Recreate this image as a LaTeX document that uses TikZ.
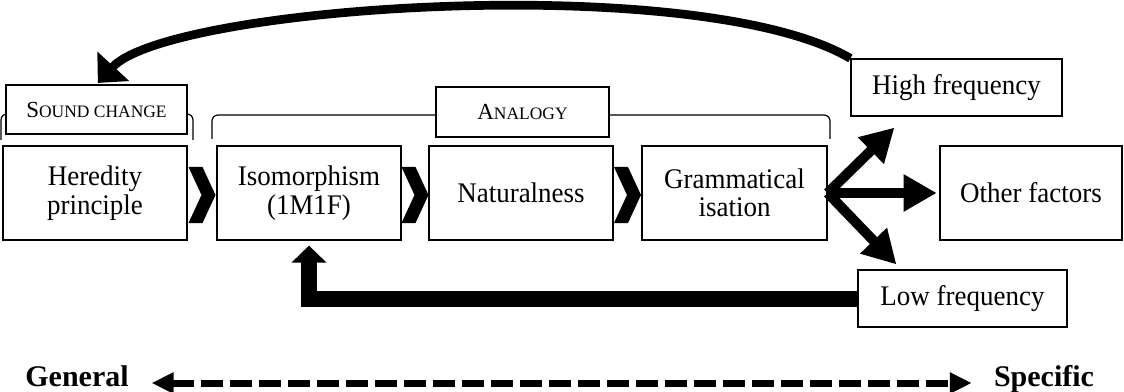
\documentclass[tikz,border=0pt]{standalone}
\usepackage{fontspec}
\setmainfont{Liberation Serif}
\newfontfamily\boxfont[FakeStretch=0.95]{Liberation Serif}
\usetikzlibrary{arrows.meta,calc}
\newcommand\mysc[2]{{\fontsize{17.25}{18}\selectfont #1}{\fontsize{13.1}{14}\selectfont #2}}
\begin{document}
\begin{tikzpicture}[x=0.75pt,y=-0.75pt,
  box/.style={draw,line width=0.9pt,fill=white,align=center,inner sep=0pt,
    font=\boxfont\fontsize{21.3}{21.3}\selectfont},
  mainbox/.style={box,minimum width=138pt,minimum height=70.5pt},
  freqbox/.style={box,minimum height=42.75pt},
  labelbox/.style={draw,line width=0.9pt,fill=white,inner sep=0pt,align=center},
  bracket/.style={line width=0.9pt,rounded corners=4.5pt},
  fat/.style={line width=7.5pt,-{Triangle[length=24.75pt,width=26.25pt]}},
  fatlow/.style={line width=12pt,-{Triangle[length=12.75pt,width=25.5pt]}},
  toparrow/.style={line width=6.5pt,-{Triangle[length=17pt,width=31.5pt]}},
  endtext/.style={inner sep=0pt,font=\fontsize{22.5}{23}\selectfont\bfseries,text height=0.7em,text depth=0.2em},
  scale arrow/.style={line width=5.25pt,dash pattern=on 16.5pt off 5.25pt,
    {Triangle[length=16.5pt,width=15pt]}-{Triangle[length=16.5pt,width=15pt]}},
  chevron/.pic={\fill (-13.5,-28) -- (0.5,-28) -- (13.5,0) -- (0.5,28) -- (-13.5,28) -- (-0.5,0) -- cycle;}
]
\useasboundingbox (0,0) rectangle (1124,392);

% brackets
\draw[bracket] (1,140) -- (1,114) -- (193,114) -- (193,140);
\draw[bracket] (212,139) -- (212,115) -- (830,115) -- (830,139);

% main boxes
\node[mainbox] (her) at (95,193) {Heredity\\principle};
\node[mainbox] (iso) at (309,193) {Isomorphism\\(1M1F)};
\node[mainbox] (nat) at (521,193) {Naturalness};
\node[mainbox,minimum width=138.75pt] (gram) at (734.5,193) {Grammatical\\isation};
\node[mainbox,minimum width=136.5pt] (oth) at (1031,193) {Other factors};
\node[freqbox,minimum width=158.25pt] (hf) at (956.5,87.5) {High frequency};
\node[freqbox,minimum width=156.75pt] (lf) at (962.5,298.5) {Low frequency};

% label boxes
\node[labelbox,minimum width=135.75pt,minimum height=36.75pt] (sc) at (96.5,109.5) {\mysc{S}{OUND CHANGE}};
\node[labelbox,minimum width=129.75pt,minimum height=37.5pt] (an) at (522.5,112) {\mysc{A}{NALOGY}};

% chevrons
\pic at ($(her.east)!0.5!(iso.west)+(0,2)$) {chevron};
\pic at ($(iso.east)!0.5!(nat.west)+(0,2)$) {chevron};
\pic at ($(nat.east)!0.5!(gram.west)+(0,2)$) {chevron};

% fan arrows
\draw[fat] (gram.east) -- ([shift={(44,11)}]hf.south west);
\draw[fat,shorten >=2pt] (gram.east) -- (oth.west);
\draw[fat] (gram.east) -- ([shift={(39,-5)}]lf.north west);

% feedback arrows
\draw[fatlow,shorten >=3.75pt] (lf.west) -| (iso.south);
\draw[toparrow,shorten >=1.5pt] (hf.north west) .. controls (700,-30) and (170,5) .. (sc.north);

% general - specific scale
\node[endtext] (gen) at (77,383) {General};
\node[endtext] (spec) at (1044,383) {Specific};
\draw[scale arrow,shorten <=17pt,shorten >=16.5pt] (gen.east) -- (spec.west);
\end{tikzpicture}
\end{document}
